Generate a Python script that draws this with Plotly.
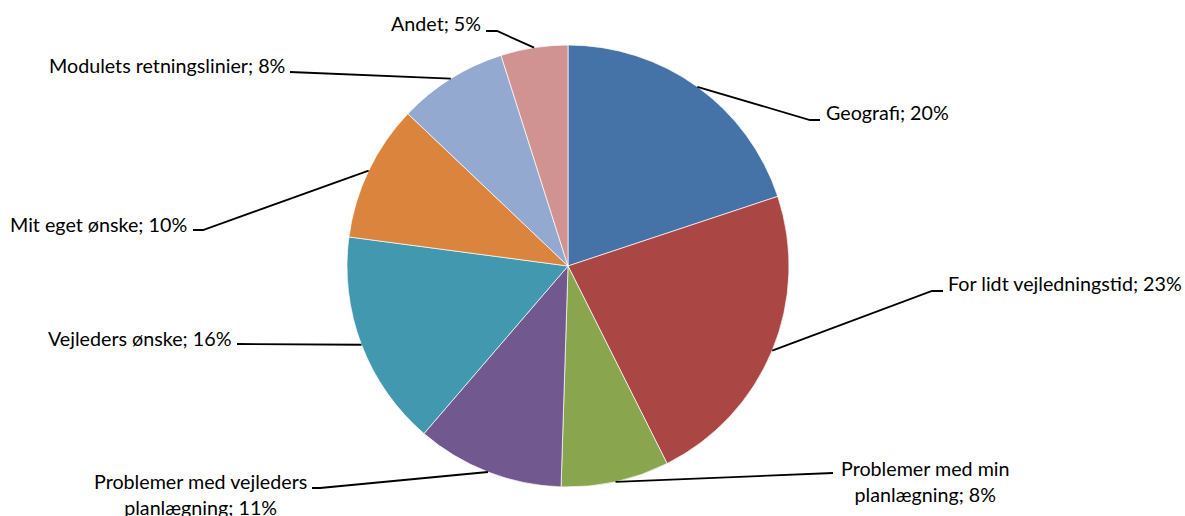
import math
import plotly.graph_objects as go

categories = ["Geografi", "For lidt vejledningstid", "Problemer med min planlægning",
              "Problemer med vejleders planlægning", "Vejleders ønske", "Mit eget ønske",
              "Modulets retningslinier", "Andet"]
values = [19.9, 22.7, 7.9, 10.8, 15.8, 10.0, 8.0, 4.9]
label_texts = ["Geografi; 20%", "For lidt vejledningstid; 23%",
               "Problemer med min<br>planlægning; 8%",
               "Problemer med vejleders<br>planlægning; 11%",
               "Vejleders ønske; 16%", "Mit eget ønske; 10%",
               "Modulets retningslinier; 8%", "Andet; 5%"]
colors = ["#4572A7", "#AA4643", "#89A54E", "#71588F", "#4198AF", "#DB843D", "#93A9CF", "#D19392"]

W, H = 1185, 516
CX, CY, R = 568, 266, 221

# label placement (screen pixels): elbow point, end of leader, text anchor x, y, xanchor
label_layout = [
    ((810, 120), (820, 120), 824, 113, "left"),
    ((932, 291), (943, 291), 946, 283, "left"),
    ((833, 473), (833, 473), 925, 481, "center"),
    ((320, 488), (312, 488), 201, 494, "center"),
    ((237, 344), (237, 344), 233, 338, "right"),
    ((203, 230), (193, 230), 189, 224, "right"),
    ((290, 72), (290, 72), 287, 65, "right"),
    ((497, 31), (486, 31), 483, 24, "right"),
]

def px(x):
    return x / W

def py(y):
    return 1 - y / H

fig = go.Figure(go.Pie(
    labels=categories, values=values, sort=False, direction="clockwise", rotation=0,
    marker=dict(colors=colors, line=dict(color="white", width=0.7)),
    textinfo="none", hoverinfo="label+percent", showlegend=False,
    domain=dict(x=[px(CX - R), px(CX + R)], y=[py(CY + R), py(CY - R)]),
))

total = sum(values)
cum = 0
shapes = []
annotations = []
for v, txt, (elbow, end, tx, ty, xa) in zip(values, label_texts, label_layout):
    mid = (cum + v / 2) / total * 2 * math.pi
    cum += v
    ax = CX + R * math.sin(mid)
    ay = CY - R * math.cos(mid)
    path = f"M {px(ax)} {py(ay)} L {px(elbow[0])} {py(elbow[1])} L {px(end[0])} {py(end[1])}"
    shapes.append(dict(type="path", xref="paper", yref="paper", path=path,
                       line=dict(color="black", width=1.8)))
    annotations.append(dict(text=txt, x=px(tx), y=py(ty), xref="paper", yref="paper",
                            xanchor=xa, yanchor="middle", showarrow=False, align="center",
                            font=dict(family="Lato, Carlito, sans-serif", size=19.7, color="#000000")))

fig.update_layout(
    width=W, height=H, margin=dict(l=0, r=0, t=0, b=0),
    paper_bgcolor="white", plot_bgcolor="white",
    shapes=shapes, annotations=annotations,
)
fig.write_html("out.html", config={"displayModeBar": False},
               post_script="document.body.style.margin='0';document.body.style.overflow='hidden';")
